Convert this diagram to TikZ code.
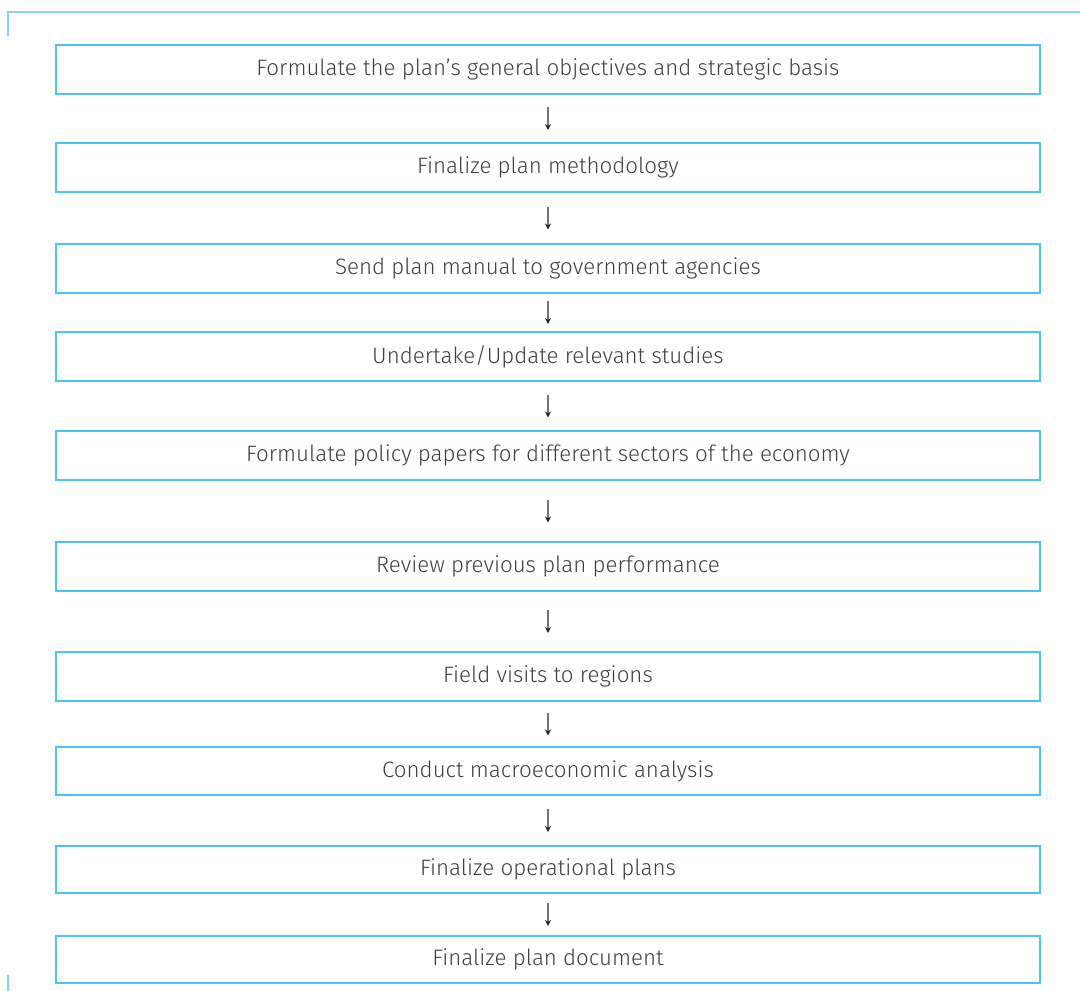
\documentclass[tikz,border=0pt]{standalone}
\usepackage{fontspec}
\setmainfont{Fira Sans}[UprightFont={* Light}]
\usetikzlibrary{arrows.meta}
\definecolor{boxblue}{HTML}{4CC4F0}
\definecolor{rulebl}{HTML}{88D6F3}
\definecolor{txtgray}{HTML}{404040}
\tikzset{
  stepbox/.style={draw=boxblue, line width=2pt, minimum width=984pt,
    minimum height=49pt, inner sep=0pt, text=txtgray,
    font=\fontsize{22.3}{26}\selectfont},
  flowarrow/.style={draw=black!55, line width=1.1pt,
    -{Stealth[length=6pt,width=6pt,color=black!85]}},
  frameline/.style={draw=rulebl, line width=2pt}
}
\begin{document}
\begin{tikzpicture}[x=1pt,y=-1pt]
  \useasboundingbox (0,0) rectangle (1080,991);
  % corner rules of the frame
  \coordinate (ftop) at (1080,12);
  \coordinate (fcorner) at (8,12);
  \coordinate (fleft) at (8,36);
  \coordinate (fbot1) at (8,975);
  \coordinate (fbot2) at (8,991);
  \draw[frameline] (ftop) -- (fcorner) -- (fleft);
  \draw[frameline] (fbot1) -- (fbot2);
  % process steps
  \node[stepbox] (s1) at (548,69.5) {Formulate the plan’s general objectives and strategic basis};
  \node[stepbox] (s2) at (548,167.5) {Finalize plan methodology};
  \node[stepbox] (s3) at (548,268.5) {Send plan manual to government agencies};
  \node[stepbox] (s4) at (548,356.5) {Undertake/Update relevant studies};
  \node[stepbox] (s5) at (548,455.5) {Formulate policy papers for different sectors of the economy};
  \node[stepbox] (s6) at (548,566.5) {Review previous plan performance};
  \node[stepbox] (s7) at (548,676.5) {Field visits to regions};
  \node[stepbox, minimum height=48pt] (s8) at (548,771) {Conduct macroeconomic analysis};
  \node[stepbox, minimum height=47pt] (s9) at (548,869.5) {Finalize operational plans};
  \node[stepbox, minimum height=47pt] (s10) at (548,959.5) {Finalize plan document};
  % connecting arrows, centred in each gap
  \draw[flowarrow, shorten <=12pt, shorten >=12pt] (s1) -- (s2);
  \draw[flowarrow, shorten <=13.5pt, shorten >=13.5pt] (s2) -- (s3);
  \draw[flowarrow, shorten <=7pt, shorten >=7pt] (s3) -- (s4);
  \draw[flowarrow, shorten <=12.5pt, shorten >=12.5pt] (s4) -- (s5);
  \draw[flowarrow, shorten <=18.5pt, shorten >=18.5pt] (s5) -- (s6);
  \draw[flowarrow, shorten <=18pt, shorten >=18pt] (s6) -- (s7);
  \draw[flowarrow, shorten <=10.5pt, shorten >=10.5pt] (s7) -- (s8);
  \draw[flowarrow, shorten <=13pt, shorten >=13pt] (s8) -- (s9);
  \draw[flowarrow, shorten <=9pt, shorten >=9pt] (s9) -- (s10);
\end{tikzpicture}
\end{document}
